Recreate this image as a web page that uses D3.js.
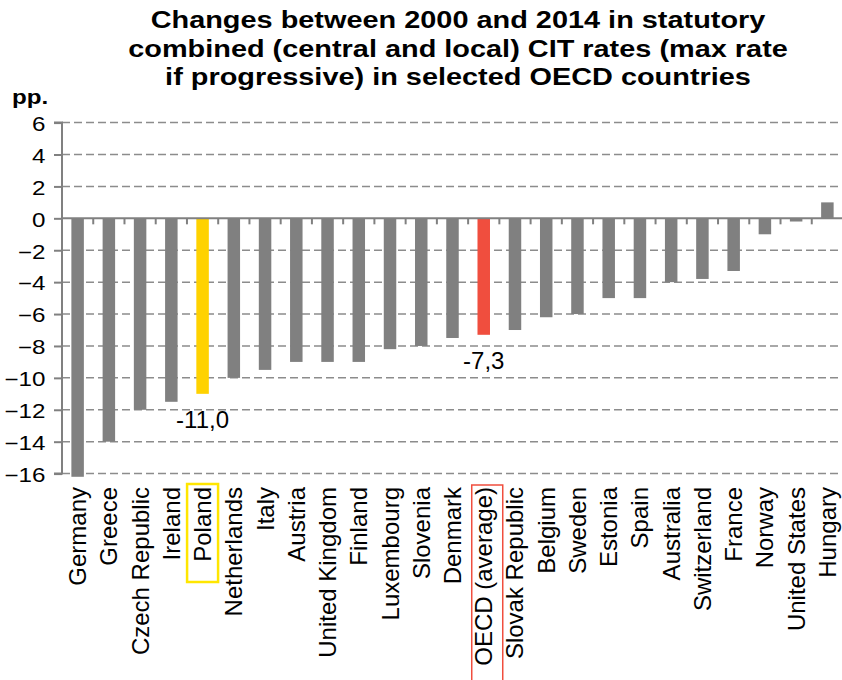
<!DOCTYPE html>
<html>
<head>
<meta charset="utf-8">
<script src="https://cdn.jsdelivr.net/npm/d3@7"></script>
<style>
body { margin: 0; background: #fff; }
text { font-family: "Liberation Sans", Arial, sans-serif; }
</style>
</head>
<body>
<script>
const width = 842, height = 680;

// data
const countries = ["Germany", "Greece", "Czech Republic", "Ireland", "Poland", "Netherlands", "Italy",
	"Austria", "United Kingdom", "Finland", "Luxembourg", "Slovenia", "Denmark", "OECD (average)",
	"Slovak Republic", "Belgium", "Sweden", "Estonia", "Spain", "Australia", "Switzerland", "France",
	"Norway", "United States", "Hungary"];
const changes = [-16.2, -14.0, -12.0, -11.5, -11.0, -10.0, -9.5, -9.0, -9.0, -9.0, -8.2, -8.0, -7.5, -7.3,
	-7.0, -6.2, -6.0, -5.0, -5.0, -4.0, -3.8, -3.3, -1.0, -0.2, 1.0];
const yTicks = [6, 4, 2, 0, -2, -4, -6, -8, -10, -12, -14, -16];
const titleLines = ["Changes between 2000 and 2014 in statutory",
	"combined (central and local) CIT rates (max rate",
	"if progressive) in selected OECD countries"];
const highlights = {"Poland": "#ffd200", "OECD (average)": "#f04e3e"};
const boxColors = {"Poland": "#ffe600", "OECD (average)": "#f04e3e"};

const plotLeft = 62, plotRight = 843, plotTop = 122.6, plotBottom = 473.6;
const grey = "#808080";
const stretch = 1.24; // title and y labels in the picture are wider than plain Arial

const svg = d3.select("body").append("svg")
	.attr("width", width)
	.attr("height", height);

const x = d3.scaleBand().domain(countries).range([plotLeft, plotRight]).paddingInner(0.6).paddingOuter(0.3);
const y = d3.scaleLinear().domain([-16, 6]).range([plotBottom, plotTop]);

// title
svg.selectAll("text.title").data(titleLines).enter().append("text")
	.attr("class", "title")
	.attr("transform", (d, i) => `translate(458,${28 + i * 28.5}) scale(${stretch},1)`)
	.attr("text-anchor", "middle")
	.style("font-size", "23.3px").style("font-weight", "bold")
	.text(d => d);

svg.append("text")
	.attr("transform", `translate(12,104) scale(${stretch},1)`)
	.style("font-size", "19.5px").style("font-weight", "bold")
	.text("pp.");

// gridlines
svg.selectAll("line.grid").data(yTicks.filter(d => d != 0)).enter().append("line")
	.attr("class", "grid")
	.attr("x1", plotLeft).attr("x2", plotRight)
	.attr("y1", d => y(d)).attr("y2", d => y(d))
	.attr("stroke", "#8c8c8c").attr("stroke-width", 1.5)
	.attr("stroke-dasharray", "8,4");

// y axis
const yAxis = d3.axisLeft(y).tickValues(yTicks).tickSize(8);
const ya = svg.append("g").attr("transform", `translate(${plotLeft},0)`).call(yAxis);
ya.select(".domain").attr("stroke", grey).attr("stroke-width", 2).attr("d", `M-8,${plotTop}H0V${plotBottom}H-8`);
ya.selectAll(".tick line").attr("stroke", grey).attr("stroke-width", 2);
ya.selectAll(".tick text")
	.attr("x", 0).attr("dy", "0.4em")
	.attr("transform", `translate(-16.5,0) scale(${stretch},1)`)
	.style("font-size", "19.5px").attr("fill", "#000")
	.style("font-family", "'Liberation Sans', Arial, sans-serif");

// bars
svg.selectAll("rect.bar").data(countries).enter().append("rect")
	.attr("class", "bar")
	.attr("x", d => x(d))
	.attr("width", x.bandwidth())
	.attr("y", (d, i) => y(Math.max(0, changes[i])))
	.attr("height", (d, i) => Math.abs(y(changes[i]) - y(0)))
	.attr("fill", d => highlights[d] || grey);

// zero line with category ticks
const step = x.step();
svg.append("line")
	.attr("x1", plotLeft).attr("x2", plotRight)
	.attr("y1", y(0)).attr("y2", y(0))
	.attr("stroke", grey).attr("stroke-width", 2);
svg.selectAll("line.ctick").data(d3.range(countries.length + 1)).enter().append("line")
	.attr("class", "ctick")
	.attr("x1", i => plotLeft + i * step).attr("x2", i => plotLeft + i * step)
	.attr("y1", y(0)).attr("y2", y(0) + 6)
	.attr("stroke", grey).attr("stroke-width", 2);

// data labels for highlighted bars
countries.forEach((c, i) => {
	if (highlights[c]) {
		svg.append("text")
			.attr("x", x(c) + x.bandwidth() / 2)
			.attr("y", y(changes[i]) + 34)
			.attr("text-anchor", "middle")
			.style("font-size", "24px")
			.text(changes[i].toFixed(1).replace(".", ","));
	}
});

// category labels
svg.selectAll("text.cat").data(countries).enter().append("text")
	.attr("class", "cat")
	.attr("transform", d => `translate(${x(d) + x.bandwidth() / 2 + 8.5},487) rotate(-90)`)
	.attr("text-anchor", "end")
	.style("font-size", "24px")
	.text(d => d);

// boxes around highlighted labels
svg.append("rect")
	.attr("x", x("Poland") + x.bandwidth() / 2 - 15.5).attr("y", 484)
	.attr("width", 31).attr("height", 98)
	.attr("fill", "none").attr("stroke", boxColors["Poland"]).attr("stroke-width", 2.5);
svg.append("rect")
	.attr("x", x("OECD (average)") + x.bandwidth() / 2 - 12).attr("y", 485)
	.attr("width", 31).attr("height", 200)
	.attr("fill", "none").attr("stroke", boxColors["OECD (average)"]).attr("stroke-width", 1.5);
</script>
</body>
</html>
